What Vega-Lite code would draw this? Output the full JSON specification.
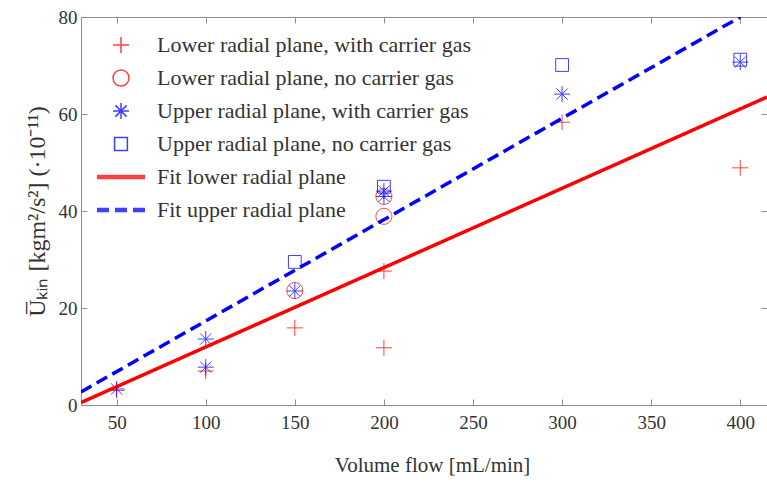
{
  "$schema": "https://vega.github.io/schema/vega-lite/v6.json",
  "width": 686,
  "height": 388,
  "autosize": "none",
  "padding": {"left": 81, "top": 17, "right": 0, "bottom": 78},
  "background": "white",
  "config": {
    "view": {"stroke": null},
    "font": "Liberation Serif",
    "axis": {
      "domainColor": "#8c8c8c",
      "tickColor": "#8c8c8c",
      "tickSize": -6,
      "grid": false,
      "labelFont": "Liberation Serif",
      "labelFontSize": 19,
      "labelColor": "#333333",
      "titleFont": "Liberation Serif",
      "titleFontSize": 21,
      "titleFontWeight": "normal",
      "titleColor": "#333333"
    },
    "legend": {
      "orient": "none",
      "legendX": 29,
      "legendY": 17,
      "padding": 0,
      "title": null,
      "labelFont": "Liberation Serif",
      "labelFontSize": 22,
      "labelColor": "#333333",
      "labelOffset": 25,
      "labelLimit": 0,
      "rowPadding": 11,
      "symbolSize": 256
    }
  },
  "datasets": {
    "points": [
      {"series": "Lower radial plane, with carrier gas", "flow": 50, "u": 3.0},
      {"series": "Lower radial plane, with carrier gas", "flow": 100, "u": 7.0},
      {"series": "Lower radial plane, with carrier gas", "flow": 150, "u": 15.9},
      {"series": "Lower radial plane, with carrier gas", "flow": 200, "u": 27.6},
      {"series": "Lower radial plane, with carrier gas", "flow": 200, "u": 11.8},
      {"series": "Lower radial plane, with carrier gas", "flow": 300, "u": 58.3},
      {"series": "Lower radial plane, with carrier gas", "flow": 400, "u": 48.9},
      {"series": "Lower radial plane, no carrier gas", "flow": 150, "u": 23.6},
      {"series": "Lower radial plane, no carrier gas", "flow": 200, "u": 43.0},
      {"series": "Lower radial plane, no carrier gas", "flow": 200, "u": 38.9},
      {"series": "Upper radial plane, with carrier gas", "flow": 50, "u": 3.3},
      {"series": "Upper radial plane, with carrier gas", "flow": 100, "u": 13.6},
      {"series": "Upper radial plane, with carrier gas", "flow": 100, "u": 7.8},
      {"series": "Upper radial plane, with carrier gas", "flow": 150, "u": 23.5},
      {"series": "Upper radial plane, with carrier gas", "flow": 200, "u": 44.1},
      {"series": "Upper radial plane, with carrier gas", "flow": 200, "u": 43.0},
      {"series": "Upper radial plane, with carrier gas", "flow": 300, "u": 64.1},
      {"series": "Upper radial plane, with carrier gas", "flow": 400, "u": 70.7},
      {"series": "Upper radial plane, no carrier gas", "flow": 150, "u": 29.5},
      {"series": "Upper radial plane, no carrier gas", "flow": 200, "u": 45.0},
      {"series": "Upper radial plane, no carrier gas", "flow": 300, "u": 70.1},
      {"series": "Upper radial plane, no carrier gas", "flow": 400, "u": 71.2}
    ],
    "fits": [
      {"series": "Fit lower radial plane", "flow": 30, "u": 0.5},
      {"series": "Fit lower radial plane", "flow": 415, "u": 63.5},
      {"series": "Fit upper radial plane", "flow": 30, "u": 2.7},
      {"series": "Fit upper radial plane", "flow": 400, "u": 80.0}
    ]
  },
  "layer": [
    {
      "data": {"name": "points"},
      "mark": {"type": "point", "filled": false, "size": 256, "opacity": 0.75, "strokeWidth": 1},
      "encoding": {
        "x": {"field": "flow", "type": "quantitative", "scale": {"domain": [30, 415], "nice": false, "zero": false},
              "axis": {"orient": "bottom", "values": [50,100,150,200,250,300,350,400], "labelPadding": 14, "title": "Volume flow [mL/min]", "titlePadding": 22, "titleX": 351}},
        "y": {"field": "u", "type": "quantitative", "scale": {"domain": [0, 80], "nice": false},
              "axis": {"values": [0,20,40,60,80], "labelPadding": 10, "title": "U̅ₖᵢₙ [kgm²/s²] (·10⁻¹¹)", "titleFont": "Liberation Serif", "titleFontSize": 24, "titlePadding": 9}},
        "color": {"field": "series", "type": "nominal",
          "scale": {"domain": ["Lower radial plane, with carrier gas", "Lower radial plane, no carrier gas", "Upper radial plane, with carrier gas", "Upper radial plane, no carrier gas", "Fit lower radial plane", "Fit upper radial plane"],
                    "range": ["#ff0000", "#ff0000", "#0000ff", "#0000ff", "#ff0000", "#0000ff"]}},
        "shape": {"field": "series", "type": "nominal",
          "scale": {"domain": ["Lower radial plane, with carrier gas", "Lower radial plane, no carrier gas", "Upper radial plane, with carrier gas", "Upper radial plane, no carrier gas", "Fit lower radial plane", "Fit upper radial plane"],
                    "range": ["M-1,0H1M0,-1V1", "M1,0A1,1,0,1,1,-1,0A1,1,0,1,1,1,0Z", "M-1,0H1M0,-1V1M-0.7,-0.7L0.7,0.7M-0.7,0.7L0.7,-0.7", "M-0.8,-0.8H0.8V0.8H-0.8Z",
                              "M-3,-0.19H3M-3,-0.06H3M-3,0.06H3M-3,0.19H3",
                              "M-3,-0.19H-1.5M-3,-0.06H-1.5M-3,0.06H-1.5M-3,0.19H-1.5M-0.75,-0.19H0.75M-0.75,-0.06H0.75M-0.75,0.06H0.75M-0.75,0.19H0.75M1.5,-0.19H3M1.5,-0.06H3M1.5,0.06H3M1.5,0.19H3"]}}
      }
    },
    {
      "data": {"name": "fits"},
      "mark": {"type": "line", "clip": true, "strokeWidth": 3.5},
      "encoding": {
        "x": {"field": "flow", "type": "quantitative", "scale": {"domain": [30, 415], "nice": false, "zero": false},
              "axis": {"orient": "top", "values": [50,100,150,200,250,300,350,400], "labels": false, "title": null}},
        "y": {"field": "u", "type": "quantitative", "scale": {"domain": [0, 80], "nice": false},
              "axis": {"orient": "right", "values": [0,20,40,60,80], "labels": false, "title": null}},
        "color": {"field": "series", "type": "nominal"},
        "strokeDash": {"field": "series", "type": "nominal", "legend": null,
          "scale": {"domain": ["Fit lower radial plane", "Fit upper radial plane"], "range": [[1, 0], [12, 6]]}}
      }
    }
  ],
  "resolve": {"axis": {"x": "independent", "y": "independent"}}
}
